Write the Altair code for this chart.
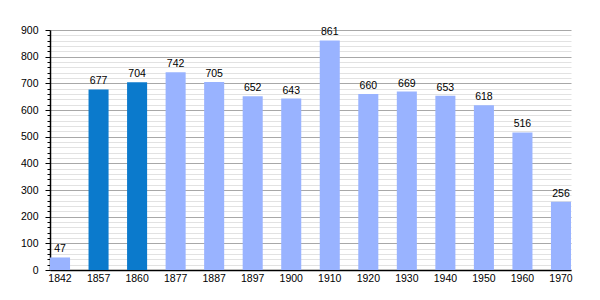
import altair as alt
import pandas as pd

years = ["1842", "1857", "1860", "1877", "1887", "1897", "1900", "1910",
         "1920", "1930", "1940", "1950", "1960", "1970"]
population = [47, 677, 704, 742, 705, 652, 643, 861, 660, 669, 653, 618, 516, 256]
highlight = [False, True, True, False, False, False, False, False,
             False, False, False, False, False, False]
y_ticks = list(range(0, 901, 20))

df = pd.DataFrame({"year": years, "pop": population, "hl": highlight})

FONT = "Liberation Sans"
FS = 10.5
y_scale = alt.Scale(domain=[0, 900], nice=False)
x_scale = alt.Scale(paddingInner=0.48, paddingOuter=0)

x_axis = alt.Axis(labelAngle=0, ticks=False, domainColor="#000000",
                  labelFont=FONT, labelFontSize=FS, labelColor="#000000",
                  labelPadding=3)
y_axis = alt.Axis(values=y_ticks,
                  labelExpr="datum.value % 100 === 0 ? datum.label : ''",
                  gridColor={"condition": {"test": "datum.value % 100 === 0", "value": "#a8a8a8"},
                             "value": "#e2e2e2"},
                  tickSize={"condition": {"test": "datum.value % 100 === 0", "value": 5},
                            "value": 3},
                  tickColor="#000000", domainColor="#000000",
                  labelFont=FONT, labelFontSize=FS, labelColor="#000000",
                  labelPadding=7, labelOverlap=False, labelBound=False,
                  labelFlush=False)

base = alt.Chart(df)

bars = base.mark_bar().encode(
    x=alt.X("year:N", sort=years, title=None, scale=x_scale, axis=x_axis),
    y=alt.Y("pop:Q", scale=y_scale, title=None, axis=y_axis),
    color=alt.Color("hl:N", scale=alt.Scale(domain=[False, True], range=["#99b3ff", "#0b7acc"]),
                    legend=None),
)

labels = base.mark_text(dy=-5, baseline="alphabetic", font=FONT, fontSize=FS,
                        color="#000000").encode(
    x=alt.X("year:N", sort=years, title=None, scale=x_scale, axis=x_axis),
    y=alt.Y("pop:Q", scale=y_scale, title=None, axis=y_axis),
    text="pop:Q",
)

chart = (bars + labels).properties(
    width=521, height=240,
    autosize=alt.AutoSizeParams(type="none"),
    padding={"left": 50, "top": 30, "right": 29, "bottom": 30},
).configure_view(stroke=None).configure_axis(gridWidth=1, domainWidth=1.5)

chart.save("out.html", embed_options={"renderer": "svg", "actions": False})
